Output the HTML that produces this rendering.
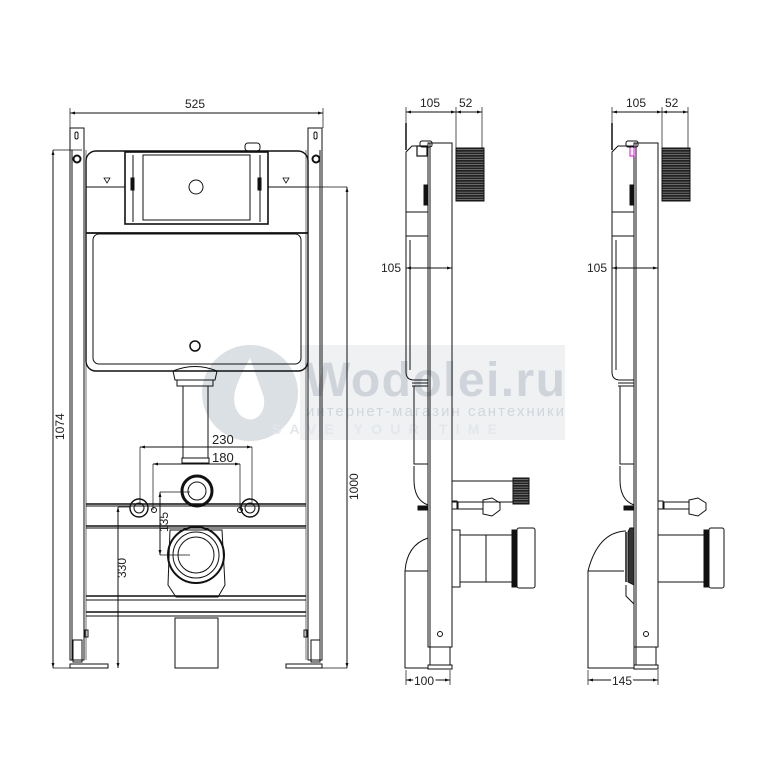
<!DOCTYPE html>
<html><head><meta charset="utf-8"><style>
html,body{margin:0;padding:0;background:#fff}
svg{display:block}
text{font-family:"Liberation Sans",sans-serif;fill:#222}
</style></head><body>
<svg width="766" height="774" viewBox="0 0 766 774" xmlns="http://www.w3.org/2000/svg">
<defs>
<marker id="a" viewBox="0 0 10 10" refX="10" refY="5" markerWidth="7" markerHeight="5" orient="auto-start-reverse"><path d="M0,2 L10,5 L0,8z" fill="#111"/></marker>
<pattern id="thr" width="30" height="2.5" patternUnits="userSpaceOnUse"><rect width="30" height="2.5" fill="#888"/><rect width="30" height="1.8" fill="#222"/></pattern>
</defs>

<!-- watermark -->
<g opacity="0.6">
<circle cx="250" cy="393" r="48" fill="#c4ccd5"/>
<path d="M250,358 C236,384 228,400 240,415 C255,428 270,410 262,392 Z" fill="#fff"/>
<rect x="300" y="345" width="265" height="95" fill="#e6e9ec"/>
<text x="305" y="396" font-size="48" font-weight="bold" textLength="260" style="fill:#b0b9c3">Wodolei.ru</text>
<text x="306" y="416" font-size="15" textLength="258" style="fill:#b4bcc5">интернет-магазин сантехники</text>
<text x="272" y="434" font-size="14" font-weight="bold" textLength="225" style="fill:#d2d8de">SAVE YOUR TIME</text>
</g>

<g fill="none" stroke="#111" stroke-width="1">
<!-- ===== FRONT VIEW ===== -->
<line x1="70" y1="113" x2="323" y2="113" marker-start="url(#a)" marker-end="url(#a)"/>
<line x1="70" y1="108" x2="70" y2="128" stroke-width="0.7"/>
<line x1="323" y1="108" x2="323" y2="128" stroke-width="0.7"/>
<rect x="70" y="128" width="14" height="532"/>
<line x1="72" y1="150" x2="72" y2="660"/>
<rect x="308" y="128" width="14" height="532"/>
<line x1="320" y1="150" x2="320" y2="660"/>
<rect x="75" y="132" width="3" height="7" rx="1.5"/>
<rect x="314" y="132" width="3" height="7" rx="1.5"/>
<circle cx="77" cy="159" r="3.5" stroke-width="2"/>
<circle cx="316" cy="159" r="3.5" stroke-width="2"/>
<line x1="84" y1="150" x2="84" y2="660" />
<line x1="86" y1="150" x2="86" y2="660" stroke-width="0.6"/>
<line x1="306" y1="150" x2="306" y2="660" stroke-width="0.6"/>
<rect x="73" y="640" width="9" height="22"/>
<rect x="311" y="640" width="9" height="22"/>
<path d="M70,668 L70,664 L108,664 L108,668 Z"/>
<path d="M286,668 L286,664 L322,664 L322,668 Z"/>
<rect x="85" y="630" width="3" height="7"/>
<rect x="304" y="630" width="3" height="7"/>
<!-- tank -->
<rect x="86" y="151" width="222" height="220" rx="10" stroke-width="1.4"/>
<rect x="93" y="234" width="208" height="130" rx="6"/>
<line x1="86" y1="233" x2="308" y2="233" stroke-width="1.8"/>
<line x1="86" y1="187" x2="125" y2="187"/>
<line x1="268" y1="187" x2="308" y2="187"/>
<path d="M104,178 L110,178 L107,183 Z" stroke-width="0.8"/>
<path d="M283,178 L289,178 L286,183 Z" stroke-width="0.8"/>
<rect x="125" y="152" width="143" height="72" stroke-width="1.6"/>
<rect x="143" y="155" width="107" height="65" />
<line x1="133" y1="155" x2="133" y2="222"/>
<line x1="260" y1="155" x2="260" y2="222"/>
<circle cx="196" cy="187" r="7"/>
<rect x="131" y="178" width="3" height="12" fill="#111"/>
<rect x="258" y="178" width="3" height="12" fill="#111"/>
<rect x="245" y="143" width="15" height="8" rx="3"/>
<circle cx="195" cy="346" r="5" stroke-width="1.5"/>
<!-- outlet -->
<path d="M173,371 Q195,362 217,371 L215,380 L175,380 Z"/>
<rect x="177" y="380" width="36" height="6"/>
<rect x="183" y="386" width="25" height="72"/>
<rect x="182" y="458" width="27" height="5"/>
<circle cx="197" cy="491" r="15" stroke-width="3"/>
<circle cx="197" cy="491" r="9"/>
<line x1="86" y1="504" x2="306" y2="504" stroke-width="1.5"/>
<line x1="86" y1="506" x2="306" y2="506"/>
<line x1="86" y1="526" x2="306" y2="526" stroke-width="1.5"/>
<line x1="86" y1="528" x2="306" y2="528"/>
<circle cx="139" cy="508" r="9" stroke-width="1.4"/><circle cx="139" cy="508" r="5"/>
<circle cx="250" cy="508" r="9" stroke-width="1.4"/><circle cx="250" cy="508" r="5"/>
<circle cx="154" cy="510" r="2.5"/><circle cx="240" cy="510" r="2.5"/>
<path d="M170,530 L222,530 L225,585 L218,597 L176,597 L168,585 Z"/>
<circle cx="196" cy="555" r="28" stroke-width="2"/>
<circle cx="196" cy="555" r="23"/>
<circle cx="196" cy="555" r="18"/>
<line x1="86" y1="596" x2="306" y2="596" stroke-width="1.5"/>
<line x1="86" y1="600" x2="306" y2="600"/>
<line x1="86" y1="612" x2="306" y2="612" stroke-width="1.5"/>
<line x1="86" y1="616" x2="306" y2="616"/>
<rect x="175" y="618" width="43" height="50"/>
<!-- dims front -->
<line x1="53" y1="150" x2="53" y2="668" marker-start="url(#a)" marker-end="url(#a)"/>
<line x1="53" y1="150" x2="82" y2="150" stroke-width="0.7"/>
<line x1="53" y1="668" x2="70" y2="668" stroke-width="0.7"/>
<line x1="347" y1="187" x2="347" y2="668" marker-start="url(#a)" marker-end="url(#a)"/>
<line x1="268" y1="187" x2="347" y2="187" stroke-width="0.7"/>
<line x1="322" y1="668" x2="347" y2="668" stroke-width="0.7"/>
<line x1="118" y1="507" x2="118" y2="668" marker-start="url(#a)" marker-end="url(#a)"/>
<line x1="118" y1="507" x2="130" y2="507" stroke-width="0.7"/>
<line x1="160" y1="492" x2="160" y2="555" marker-start="url(#a)" marker-end="url(#a)"/>
<line x1="160" y1="492" x2="190" y2="492" stroke-width="0.7"/>
<line x1="160" y1="555" x2="190" y2="555" stroke-width="0.7"/>
<line x1="140" y1="447" x2="252" y2="447" marker-start="url(#a)" marker-end="url(#a)"/>
<line x1="140" y1="447" x2="140" y2="505" stroke-width="0.7"/>
<line x1="252" y1="447" x2="252" y2="505" stroke-width="0.7"/>
<line x1="153" y1="464" x2="240" y2="464" marker-start="url(#a)" marker-end="url(#a)"/>
<line x1="153" y1="464" x2="153" y2="510" stroke-width="0.7"/>
<line x1="240" y1="464" x2="240" y2="510" stroke-width="0.7"/>

<!-- ===== SIDE VIEW 1 ===== -->
<g>
<line x1="406" y1="112" x2="456" y2="112" marker-start="url(#a)" marker-end="url(#a)"/>
<line x1="456" y1="112" x2="482" y2="112" marker-start="url(#a)" marker-end="url(#a)"/>
<line x1="406" y1="107" x2="406" y2="130" stroke-width="0.7"/>
<line x1="456" y1="107" x2="456" y2="148" stroke-width="0.7"/>
<line x1="482" y1="107" x2="482" y2="148" stroke-width="0.7"/>
<line x1="406" y1="123" x2="406" y2="150" stroke-width="1.5"/>
<rect x="428" y="143" width="24" height="504"/>
<line x1="430" y1="143" x2="430" y2="647"/>
<rect x="430" y="647" width="20" height="18"/>
<rect x="428" y="665" width="24" height="4"/>
<circle cx="440" cy="634" r="2.5"/>
<path d="M428,146 L412,146 L406,152 L406,212 L428,212"/>
<rect x="417" y="146" width="10" height="10" stroke-width="1.2"/>
<rect x="420" y="141" width="12" height="6" rx="2"/>
<path d="M406,212 L406,236 L428,236"/>
<path d="M406,236 L406,372 Q406,380 414,380 L428,380"/>
<rect x="424" y="185" width="4" height="20" fill="#111"/>
<line x1="410" y1="240" x2="410" y2="370"/>
<path d="M412,383 L428,383 M412,386 L428,386"/>
<rect x="414" y="386" width="14" height="78"/>
<path d="M414,466 L414,480 Q414,500 428,505"/>
<line x1="414" y1="464" x2="428" y2="464"/>
<rect x="456" y="148" width="28" height="53" fill="url(#thr)"/>
<rect x="456" y="148" width="28" height="53"/>
<line x1="406" y1="268" x2="452" y2="268" marker-start="url(#a)" marker-end="url(#a)"/>
<rect x="418" y="506" width="10" height="4" fill="#111"/>
<rect x="452" y="501" width="5" height="8"/>
<rect x="458" y="502" width="25" height="7"/>
<path d="M483,500 L492,498 L500,503 L500,510 L492,516 L483,514 Z"/>
<rect x="452" y="530" width="8" height="57"/>
<rect x="460" y="535" width="52" height="47"/>
<line x1="486" y1="535" x2="486" y2="582"/>
<rect x="512" y="530" width="5" height="57" fill="#111"/>
<rect x="517" y="528" width="18" height="60" rx="2"/>
<path d="M428,538 Q407,545 405,571 L405,668 L428,668"/>
<line x1="405" y1="571" x2="428" y2="571"/>
<line x1="406" y1="680" x2="450" y2="680" marker-start="url(#a)" marker-end="url(#a)"/>
<line x1="406" y1="670" x2="406" y2="685" stroke-width="0.7"/>
<line x1="450" y1="670" x2="450" y2="685" stroke-width="0.7"/>
</g>
<rect x="452" y="481" width="62" height="21"/>
<rect x="513" y="478" width="16" height="26" fill="url(#thr)"/>
<rect x="513" y="478" width="16" height="26"/>

<!-- ===== SIDE VIEW 2 ===== -->
<g transform="translate(206,0)">
<line x1="406" y1="112" x2="456" y2="112" marker-start="url(#a)" marker-end="url(#a)"/>
<line x1="456" y1="112" x2="482" y2="112" marker-start="url(#a)" marker-end="url(#a)"/>
<line x1="406" y1="107" x2="406" y2="130" stroke-width="0.7"/>
<line x1="456" y1="107" x2="456" y2="148" stroke-width="0.7"/>
<line x1="482" y1="107" x2="482" y2="148" stroke-width="0.7"/>
<line x1="406" y1="123" x2="406" y2="150" stroke-width="1.5"/>
<rect x="428" y="143" width="24" height="504"/>
<line x1="430" y1="143" x2="430" y2="647"/>
<rect x="430" y="647" width="20" height="18"/>
<rect x="428" y="665" width="24" height="4"/>
<circle cx="440" cy="634" r="2.5"/>
<path d="M428,146 L412,146 L406,152 L406,212 L428,212"/>
<rect x="424" y="147" width="4" height="9" stroke="#e0e" stroke-width="1"/>
<rect x="420" y="141" width="12" height="6" rx="2"/>
<path d="M406,212 L406,236 L428,236"/>
<path d="M406,236 L406,372 Q406,380 414,380 L428,380"/>
<rect x="424" y="185" width="4" height="20" fill="#111"/>
<line x1="410" y1="240" x2="410" y2="370"/>
<path d="M412,383 L428,383 M412,386 L428,386"/>
<rect x="414" y="386" width="14" height="78"/>
<path d="M414,466 L414,480 Q414,500 428,505"/>
<line x1="414" y1="464" x2="428" y2="464"/>
<rect x="456" y="148" width="28" height="53" fill="url(#thr)"/>
<rect x="456" y="148" width="28" height="53"/>
<line x1="406" y1="268" x2="452" y2="268" marker-start="url(#a)" marker-end="url(#a)"/>
<rect x="418" y="506" width="10" height="4" fill="#111"/>
<rect x="452" y="501" width="5" height="8"/>
<rect x="458" y="502" width="25" height="7"/>
<path d="M483,500 L492,498 L500,503 L500,510 L492,516 L483,514 Z"/>
<rect x="452" y="535" width="46" height="47"/>
<rect x="498" y="530" width="5" height="57" fill="#111"/>
<rect x="503" y="528" width="15" height="60" rx="2"/>
<path d="M428,528 L424,528 L422,532 L422,582 L428,585 Z" fill="#333"/>
<line x1="420" y1="532" x2="420" y2="582" stroke-width="1.5"/>
<path d="M420,531 Q392,532 382,571 L382,668 L428,668 L428,604 L420,596 L420,585"/>
<line x1="382" y1="571" x2="418" y2="571"/>
<line x1="382" y1="680" x2="452" y2="680" marker-start="url(#a)" marker-end="url(#a)"/>
<line x1="382" y1="670" x2="382" y2="685" stroke-width="0.7"/>
<line x1="452" y1="670" x2="452" y2="685" stroke-width="0.7"/>
</g>
</g>

<g font-size="12">
<text x="185" y="108">525</text>
<text x="212" y="444" font-size="13">230</text>
<text x="212" y="462" font-size="13">180</text>
<text transform="translate(64,440) rotate(-90)">1074</text>
<text transform="translate(358,500) rotate(-90)">1000</text>
<text transform="translate(126,578) rotate(-90)">330</text>
<text transform="translate(168,532) rotate(-90)">135</text>
<text x="420" y="107">105</text>
<text x="459" y="107">52</text>
<text x="381" y="272">105</text>
<text x="414" y="685" style="stroke:#fff;stroke-width:4;paint-order:stroke">100</text>
<text x="626" y="107">105</text>
<text x="665" y="107">52</text>
<text x="587" y="272">105</text>
<text x="612" y="685" style="stroke:#fff;stroke-width:4;paint-order:stroke">145</text>
</g>
</svg>
</body></html>
